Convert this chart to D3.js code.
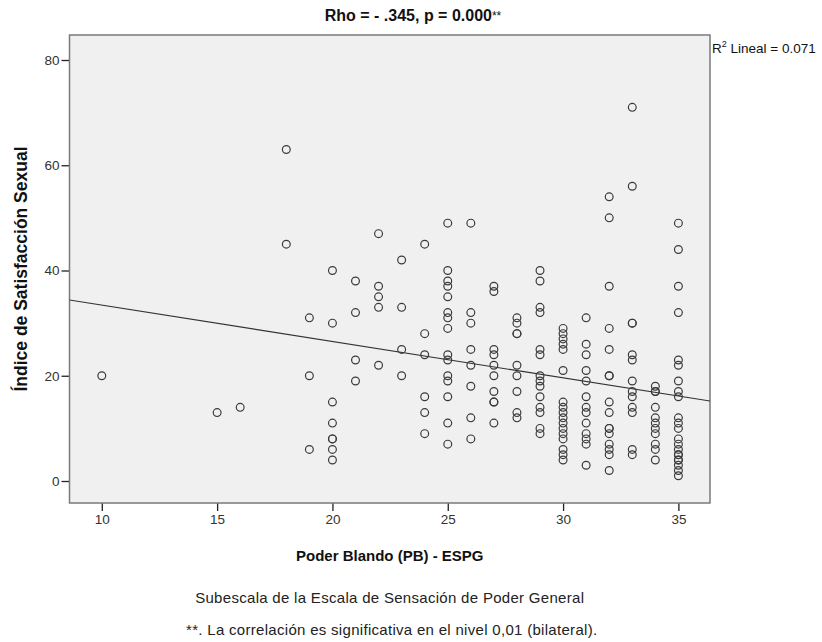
<!DOCTYPE html>
<html>
<head>
<meta charset="utf-8">
<script src="https://cdn.jsdelivr.net/npm/d3@7"></script>
<style>
  body { margin: 0; background: #fff; }
  svg { display: block; font-family: "Liberation Sans", Arial, sans-serif; }
</style>
</head>
<body>
<svg id="chart" width="822" height="642"></svg>
<script>
// ---- data (x = Poder Blando score, values = Índice de Satisfacción Sexual) ----
const xValues = [10, 15, 16, 18, 19, 20, 21, 22, 23, 24, 25, 26, 27, 28, 29, 30, 31, 32, 33, 34, 35];
const yValues = [
  [20],
  [13],
  [14],
  [63, 45],
  [31, 20, 6],
  [40, 30, 15, 11, 8, 8, 6, 4],
  [38, 32, 23, 19],
  [47, 37, 35, 33, 22],
  [42, 33, 25, 20],
  [45, 28, 24, 16, 13, 9],
  [49, 40, 38, 37, 35, 32, 31, 29, 24, 23, 20, 19, 16, 11, 7],
  [49, 32, 30, 25, 22, 18, 12, 8],
  [37, 36, 25, 24, 22, 20, 17, 15, 15, 11],
  [31, 30, 28, 28, 22, 20, 17, 13, 12],
  [40, 38, 33, 32, 25, 24, 20, 19, 18, 16, 14, 13, 10, 9],
  [29, 28, 27, 26, 25, 21, 15, 14, 13, 12, 11, 10, 9, 8, 6, 5, 4],
  [31, 26, 24, 21, 19, 16, 14, 13, 11, 9, 8, 7, 3],
  [54, 50, 37, 29, 25, 20, 20, 15, 13, 10, 10, 9, 7, 6, 5, 2],
  [71, 56, 30, 30, 24, 23, 19, 17, 16, 14, 13, 6, 5],
  [18, 17, 17, 14, 12, 11, 10, 9, 7, 6, 4],
  [49, 44, 37, 32, 23, 22, 19, 17, 16, 12, 11, 10, 8, 7, 6, 5, 5, 4, 4, 3, 2, 1]
];
const xTicks = [10, 15, 20, 25, 30, 35];
const yTicks = [0, 20, 40, 60, 80];
const fitIntercept = 40.34;   // linear fit: y = a + b*x
const fitSlope = -0.691;
const titleText = "Rho = - .345, p = 0.000";
const titleStars = "**";
const r2Label = "Lineal = 0.071";
const xLabel = "Poder Blando (PB) - ESPG";
const yLabel = "Índice de Satisfacción Sexual";
const subLabel = "Subescala de la Escala de Sensación de Poder General";
const noteLabel = "**. La correlación es significativa en el nivel 0,01 (bilateral).";

const points = [];
xValues.forEach((xv, i) => yValues[i].forEach(yv => points.push({x: xv, y: yv})));

// ---- layout ----
const svg = d3.select("#chart");
const pLeft = 69.5, pRight = 710, pTop = 35, pBottom = 503;
const x = d3.scaleLinear().domain([8.6, 36.37]).range([pLeft, pRight]);
const y = d3.scaleLinear().domain([-4.18, 84.75]).range([pBottom, pTop]);

svg.append("rect").attr("x", pLeft).attr("y", pTop)
  .attr("width", pRight - pLeft).attr("height", pBottom - pTop)
  .attr("fill", "#f0f0f0").attr("stroke", "none");

// axes
const xAxis = svg.append("g").attr("transform", `translate(0,${pBottom})`)
  .call(d3.axisBottom(x).tickValues(xTicks).tickSize(8).tickSizeOuter(0).tickPadding(3));
const yAxis = svg.append("g").attr("transform", `translate(${pLeft},0)`)
  .call(d3.axisLeft(y).tickValues(yTicks).tickSize(8).tickSizeOuter(0).tickPadding(2));
[xAxis, yAxis].forEach(g => {
  g.select(".domain").remove();
  g.selectAll(".tick line").attr("stroke", "#222").attr("stroke-width", 1.3);
  g.selectAll(".tick text").attr("fill", "#333").style("font-size", "13.5px")
    .style("font-family", "'Liberation Sans', Arial, sans-serif");
});

// border
svg.append("rect").attr("x", pLeft).attr("y", pTop)
  .attr("width", pRight - pLeft).attr("height", pBottom - pTop)
  .attr("fill", "none").attr("stroke", "#7a7a7a").attr("stroke-width", 1.5);

// fit line clipped to plot
svg.append("clipPath").attr("id", "clip").append("rect")
  .attr("x", pLeft).attr("y", pTop).attr("width", pRight - pLeft).attr("height", pBottom - pTop);
const [dx0, dx1] = x.domain();
svg.append("line").attr("clip-path", "url(#clip)")
  .attr("x1", x(dx0)).attr("y1", y(fitIntercept + fitSlope * dx0))
  .attr("x2", x(dx1)).attr("y2", y(fitIntercept + fitSlope * dx1))
  .attr("stroke", "#333").attr("stroke-width", 1.1);

// points
svg.append("g").selectAll("circle").data(points).join("circle")
  .attr("cx", d => x(d.x)).attr("cy", d => y(d.y)).attr("r", 3.9)
  .attr("fill", "none").attr("stroke", "#3a3a3a").attr("stroke-width", 1.2);

// title (centred over the whole chart)
const t = svg.append("text").attr("x", 413).attr("y", 21)
  .attr("text-anchor", "middle").style("font-size", "16px").attr("fill", "#111");
t.append("tspan").style("font-weight", "bold").text(titleText);
t.append("tspan").style("font-size", "12px").attr("dy", -1).text(titleStars);

// R2 label
const r2 = svg.append("text").attr("x", pRight + 2).attr("y", 53)
  .style("font-size", "13.5px").attr("fill", "#111");
r2.append("tspan").text("R");
r2.append("tspan").attr("dy", -6).style("font-size", "9px").text("2");
r2.append("tspan").attr("dy", 6).text(" " + r2Label);

// axis titles
svg.append("text").attr("x", (pLeft + pRight) / 2).attr("y", 561)
  .attr("text-anchor", "middle").style("font-size", "15px").style("font-weight", "bold")
  .attr("fill", "#111").text(xLabel);
svg.append("text").attr("transform", `translate(27,${(pTop + pBottom) / 2}) rotate(-90)`)
  .attr("text-anchor", "middle").style("font-size", "17.5px").style("font-weight", "bold")
  .attr("fill", "#111").text(yLabel);

svg.append("text").attr("x", (pLeft + pRight) / 2).attr("y", 603)
  .attr("text-anchor", "middle").style("font-size", "15px").style("letter-spacing", "0.3px")
  .attr("fill", "#222").text(subLabel);
svg.append("text").attr("x", (pLeft + pRight) / 2 + 2).attr("y", 635)
  .attr("text-anchor", "middle").style("font-size", "15px").style("letter-spacing", "0.3px")
  .attr("fill", "#222").text(noteLabel);
</script>
</body>
</html>
